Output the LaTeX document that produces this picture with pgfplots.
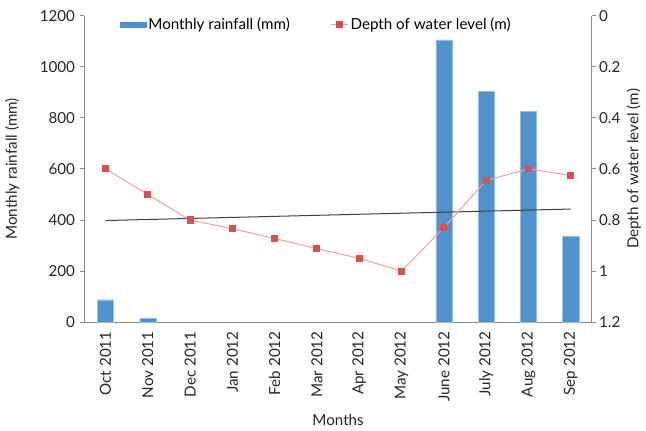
\documentclass[border=0pt]{standalone}
\usepackage{pgfplots}
\pgfplotsset{compat=1.18}
\usepackage{fontspec}
\setmainfont{Lato}
\definecolor{barblue}{HTML}{5092CE}
\definecolor{mred}{HTML}{D9504F}
\definecolor{lred}{HTML}{F0A0A0}
\definecolor{axgray}{HTML}{8C8C8C}
\begin{document}
\fontsize{15}{17}\selectfont
\begin{tikzpicture}
\pgfplotsset{
  common/.style={
    width=500bp, height=302bp, scale only axis,
    xmin=-0.5, xmax=11.5,
    /pgf/number format/assume math mode=true,
    /pgf/number format/1000 sep={},
    tick label style={font=\fontsize{15}{17}\selectfont, text=black!85},
    label style={font=\fontsize{15}{17}\selectfont, text=black!85},
    axis line style={axgray, line width=1.2pt},
    tick style={axgray, line width=1pt},
    tick align=outside,
    major tick length=4pt,
  }
}
\begin{axis}[common,
  axis y line*=left, axis x line*=bottom,
  ymin=0, ymax=1200, ytick={0,200,...,1200},
  xtick={0,...,11},
  xticklabels={Oct 2011,Nov 2011,Dec 2011,Jan 2012,Feb 2012,Mar 2012,Apr 2012,May 2012,June 2012,July 2012,Aug 2012,Sep 2012},
  x tick label style={rotate=90, anchor=east},
  xtick style={draw=none},
  minor xtick={-0.5,0.5,...,11.5},
  minor tick length=5pt,
  minor tick style={axgray, line width=1pt},
  xlabel={Months},
  ylabel={Monthly rainfall (mm)},
  ylabel style={yshift=10pt},
  xlabel style={yshift=-2pt},
  legend style={at={(0.07,1.0)}, anchor=north west, draw=none, fill=none,
    legend columns=2, font=\fontsize{15}{17}\selectfont,
    /tikz/every even column/.append style={column sep=38pt},
    inner sep=0pt},
  legend cell align=left,
]
\addplot[ybar, bar width=0.38, fill=barblue, draw=barblue!60!white,
  legend image code/.code={\fill[barblue] (-0.1cm,-0.09cm) rectangle (0.8cm,0.09cm);}]
  coordinates {(0,88) (1,14) (8,1105) (9,903) (10,825) (11,336)};
\addlegendentry{Monthly rainfall (mm)}
\addlegendimage{lred, line width=1pt, mark=square*, mark size=3pt, mark options={draw=mred, fill=mred}}
\addlegendentry{Depth of water level (m)}
\addplot[black!75, line width=1pt, forget plot] coordinates {(0,398) (11,443)};
\end{axis}
\begin{axis}[common,
  axis y line*=right, axis x line=none,
  y dir=reverse,
  ymin=0, ymax=1.2, ytick={0,0.2,...,1.2},
  yticklabels={0,0.2,0.4,0.6,0.8,1,1.2},
  yticklabel style={xshift=-2pt},
  ylabel={Depth of water level (m)},
  ylabel style={yshift=4pt},
]
\addplot[lred, line width=1pt, mark=square*, mark size=3pt, mark options={draw=mred, fill=mred}]
  coordinates {(0,0.6) (1,0.7) (2,0.8) (3,0.834) (4,0.872) (5,0.912) (6,0.95) (7,1.0) (8,0.83) (9,0.645) (10,0.6) (11,0.625)};
\end{axis}
\path (current bounding box.north) ++(0,5pt);
\end{tikzpicture}
\end{document}
